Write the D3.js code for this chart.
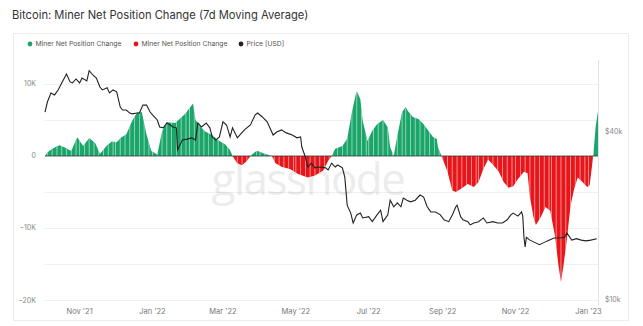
<!DOCTYPE html>
<html><head><meta charset="utf-8">
<script src="https://cdn.jsdelivr.net/npm/d3@7"></script>
<style>body{margin:0;background:#fff;} svg{display:block;font-family:Inter,'Open Sans',sans-serif;}</style>
</head><body><svg id="c" width="643" height="326"></svg>
<script>
const title = "Bitcoin: Miner Net Position Change (7d Moving Average)";
const legendLabels = ["Miner Net Position Change","Miner Net Position Change","Price [USD]"];
const legendColors = ["#1aa56a","#e8161b","#222222"];

const netDates = ["2021-10-03","2021-10-05","2021-10-09","2021-10-15","2021-10-19","2021-10-25","2021-10-30","2021-11-04","2021-11-09","2021-11-14","2021-11-18","2021-11-24","2021-11-28","2021-12-02","2021-12-06","2021-12-10","2021-12-15","2021-12-19","2021-12-23","2021-12-27","2021-12-31","2022-01-05","2022-01-09","2022-01-13","2022-01-20","2022-01-28","2022-02-04","2022-02-06","2022-02-10","2022-02-14","2022-02-20","2022-02-25","2022-03-03","2022-03-07","2022-03-09","2022-03-13","2022-03-17","2022-03-21","2022-03-24","2022-03-28","2022-03-30","2022-04-05","2022-04-11","2022-04-14","2022-04-19","2022-04-26","2022-05-03","2022-05-11","2022-05-17","2022-05-24","2022-05-28","2022-05-31","2022-06-03","2022-06-09","2022-06-13","2022-06-17","2022-06-20","2022-06-21","2022-06-24","2022-06-26","2022-06-30","2022-07-04","2022-07-08","2022-07-13","2022-07-17","2022-07-19","2022-07-22","2022-07-25","2022-07-29","2022-08-01","2022-08-03","2022-08-07","2022-08-12","2022-08-16","2022-08-20","2022-08-24","2022-08-27","2022-08-28","2022-08-31","2022-09-05","2022-09-09","2022-09-12","2022-09-16","2022-09-22","2022-09-27","2022-10-01","2022-10-05","2022-10-09","2022-10-14","2022-10-18","2022-10-22","2022-10-26","2022-10-30","2022-11-03","2022-11-08","2022-11-11","2022-11-13","2022-11-16","2022-11-18","2022-11-22","2022-11-26","2022-11-30","2022-12-04","2022-12-07","2022-12-09","2022-12-11","2022-12-14","2022-12-17","2022-12-20","2022-12-23","2022-12-27","2022-12-31","2023-01-02","2023-01-05","2023-01-07","2023-01-09"];
const netValues = [0,500,1000,1500,1200,700,2600,1400,2500,1800,300,1500,2000,1900,2600,3000,4900,6000,6100,3000,700,200,3400,4700,4600,5800,7300,5000,4100,3400,2900,2200,1600,800,0,-1000,-1300,-700,0,600,700,300,0,-1000,-1500,-1800,-2500,-3000,-2700,-2000,-700,0,1000,1400,2400,6100,8400,9000,7900,4900,2100,3500,4400,5000,4000,1200,0,2800,6100,6800,6200,5400,5100,4400,3500,2600,2400,1200,0,-2200,-4800,-5000,-4600,-3900,-4300,-3600,-1800,-500,-1400,-2200,-3600,-4400,-4200,-3200,-2200,-2400,-5700,-8500,-9600,-8500,-7100,-7600,-11100,-15300,-17500,-15300,-11500,-6900,-4600,-3000,-3600,-4300,-4100,0,4000,6200];

const priceDates = ["2021-10-03","2021-10-05","2021-10-08","2021-10-11","2021-10-14","2021-10-17","2021-10-21","2021-10-24","2021-10-26","2021-10-29","2021-11-01","2021-11-03","2021-11-07","2021-11-09","2021-11-12","2021-11-15","2021-11-18","2021-11-20","2021-11-24","2021-11-26","2021-11-29","2021-12-02","2021-12-05","2021-12-07","2021-12-10","2021-12-13","2021-12-15","2021-12-19","2021-12-21","2021-12-24","2021-12-27","2021-12-30","2022-01-01","2022-01-05","2022-01-07","2022-01-10","2022-01-13","2022-01-16","2022-01-18","2022-01-21","2022-01-22","2022-01-26","2022-01-30","2022-02-03","2022-02-06","2022-02-08","2022-02-11","2022-02-15","2022-02-18","2022-02-20","2022-02-23","2022-02-26","2022-03-01","2022-03-04","2022-03-07","2022-03-09","2022-03-13","2022-03-15","2022-03-19","2022-03-24","2022-03-28","2022-03-30","2022-04-03","2022-04-07","2022-04-09","2022-04-12","2022-04-15","2022-04-19","2022-04-23","2022-04-28","2022-05-02","2022-05-05","2022-05-06","2022-05-09","2022-05-11","2022-05-14","2022-05-17","2022-05-21","2022-05-26","2022-05-28","2022-05-31","2022-06-03","2022-06-05","2022-06-09","2022-06-11","2022-06-13","2022-06-16","2022-06-18","2022-06-21","2022-06-24","2022-06-26","2022-07-01","2022-07-04","2022-07-08","2022-07-11","2022-07-13","2022-07-17","2022-07-19","2022-07-22","2022-07-25","2022-07-28","2022-07-30","2022-08-02","2022-08-05","2022-08-09","2022-08-13","2022-08-16","2022-08-19","2022-08-22","2022-08-26","2022-08-30","2022-09-02","2022-09-06","2022-09-09","2022-09-12","2022-09-13","2022-09-16","2022-09-18","2022-09-22","2022-09-24","2022-09-27","2022-10-01","2022-10-05","2022-10-08","2022-10-13","2022-10-17","2022-10-21","2022-10-25","2022-10-28","2022-10-30","2022-11-03","2022-11-06","2022-11-07","2022-11-08","2022-11-09","2022-11-10","2022-11-13","2022-11-17","2022-11-21","2022-11-25","2022-11-29","2022-12-03","2022-12-08","2022-12-12","2022-12-14","2022-12-18","2022-12-22","2022-12-26","2022-12-30","2023-01-03","2023-01-08"];
const priceValues = [47200,51300,55300,54400,56700,60100,64700,60600,60100,62100,60100,62600,61100,66500,64200,62600,58100,56700,57700,55300,56700,55800,49200,48000,48000,46800,46500,46800,46800,50000,50000,47200,46100,44200,41700,41400,43100,42400,41700,41400,34500,37400,37700,38100,37400,43100,41700,43100,41400,38400,37400,38400,43500,42400,38400,41400,38100,39000,40700,42400,46100,46800,45300,43500,41700,39000,40000,40700,39700,39000,38100,38400,35300,32500,29900,30900,29700,29900,29700,29200,30900,29900,30400,29700,27500,21800,20400,18800,20100,20400,19600,19800,19000,20100,20900,19000,20100,22700,21500,22200,21500,23100,22700,22400,22700,23700,23300,21500,20600,20600,20100,19300,19000,20100,21500,21800,19800,19300,19000,18500,18800,19000,19600,18800,19000,18800,18800,19300,20100,20400,19900,20600,19900,16700,15400,16700,16300,16000,15700,16000,16300,16600,16600,16700,17300,16300,16500,16300,16200,16300,16500];

const leftTicks = [10000, 0, -10000, -20000];
const leftTickLabels = ["10K", "0", "\u221210K", "\u221220K"];
const gridTicks = [10000, 5000, -5000, -10000, -15000, -20000];
const rightTicks = [40000, 10000];
const rightTickLabels = ["$40k", "$10k"];
const xTickDates = ["2021-11-01","2022-01-01","2022-03-01","2022-05-01","2022-07-01","2022-09-01","2022-11-01","2023-01-01"];
const xDomain = ["2021-10-03","2023-01-09"];

const parse = d3.utcParse("%Y-%m-%d");
const net = netDates.map((d,i)=>({date:parse(d), v:netValues[i]}));
const price = priceDates.map((d,i)=>({date:parse(d), v:priceValues[i]}));

const svg = d3.select("#c");
const L = 45, R = 598, T = 60, B = 300;

const x = d3.scaleUtc().domain(xDomain.map(parse)).range([L, R]);
const y = d3.scaleLinear().domain([-20000, 13333]).range([B, T]);
const yP = d3.scaleLog().domain([10000, 72700]).range([299, T]);

// card
svg.append("rect").attr("x",13.5).attr("y",33.5).attr("width",615).attr("height",287)
  .attr("fill","none").attr("stroke","#ececec");

// title
svg.append("text").attr("x",12).attr("y",19).text(title)
  .attr("font-size",11.2).attr("fill","#333");

// legend
const legX = [30, 136, 241];
legendLabels.forEach((t,i)=>{
  const g = svg.append("g").attr("transform",`translate(${legX[i]},44)`);
  g.append("circle").attr("r",2.4).attr("fill",legendColors[i]);
  g.append("text").attr("x",5.5).attr("y",2.4).text(t).attr("font-size",6.8).attr("fill","#555");
});

// grid
svg.append("g").selectAll("line").data(gridTicks).join("line")
  .attr("x1",L).attr("x2",R).attr("y1",d=>y(d)+0.5).attr("y2",d=>y(d)+0.5)
  .attr("stroke","#f0f0f0");

// right border line
svg.append("line").attr("x1",R+0.5).attr("x2",R+0.5).attr("y1",T).attr("y2",305).attr("stroke","#e2e2e2");

// watermark
svg.append("text").attr("x",308).attr("y",195).attr("text-anchor","middle")
  .text("glassnode").attr("font-size",44).attr("font-family","'Open Sans',sans-serif")
  .attr("fill","#000").attr("opacity",0.07).attr("letter-spacing",-1.5);

// left axis labels
svg.append("g").selectAll("text").data(leftTicks).join("text")
  .attr("x",36).attr("y",d=>y(d)+2.5).attr("text-anchor","end")
  .text((d,i)=>leftTickLabels[i]).attr("font-size",7).attr("fill","#888");

// right axis labels
svg.append("g").selectAll("text").data(rightTicks).join("text")
  .attr("x",605).attr("y",d=>yP(d)+2.5)
  .text((d,i)=>rightTickLabels[i]).attr("font-size",7).attr("fill","#888");

// x axis labels
const fmt = d3.utcFormat("%b '%y");
svg.append("g").selectAll("text").data(xTickDates.map(parse)).join("text")
  .attr("x",d=>x(d)).attr("y",314).attr("text-anchor","middle")
  .text(d=>fmt(d)).attr("font-size",7.5).attr("fill","#777");

// areas
const y0 = y(0);
const area = d3.area().x(d=>x(d.date)).y0(y0).y1(d=>y(d.v));
const defs = svg.append("defs");
defs.append("clipPath").attr("id","clipTop").append("rect").attr("x",L).attr("y",T-10).attr("width",R-L).attr("height",y0-T+10);
defs.append("clipPath").attr("id","clipBot").append("rect").attr("x",L).attr("y",y0).attr("width",R-L).attr("height",B-y0+10);
defs.append("clipPath").attr("id","clipArea").append("path").attr("d",area(net));

svg.append("path").attr("d",area(net)).attr("fill","#1aa56a").attr("clip-path","url(#clipTop)");
svg.append("path").attr("d",area(net)).attr("fill","#e8161b").attr("clip-path","url(#clipBot)");

// bar gaps (every 4 days)
const stripeDates = d3.utcDay.every(4).range(x.domain()[0], x.domain()[1]);
svg.append("g").attr("clip-path","url(#clipArea)").selectAll("line").data(stripeDates).join("line")
  .attr("x1",d=>x(d)).attr("x2",d=>x(d)).attr("y1",T).attr("y2",B)
  .attr("stroke","#fff").attr("stroke-width",0.7).attr("opacity",0.75);

// baseline
svg.append("line").attr("x1",L).attr("x2",R).attr("y1",y0).attr("y2",y0)
  .attr("stroke","#3a3a3a").attr("stroke-opacity",0.55).attr("stroke-width",1.3);

// price line
const line = d3.line().x(d=>x(d.date)).y(d=>yP(d.v));
svg.append("path").attr("d",line(price)).attr("fill","none").attr("stroke","#222").attr("stroke-width",1.1);
</script>
</body></html>
